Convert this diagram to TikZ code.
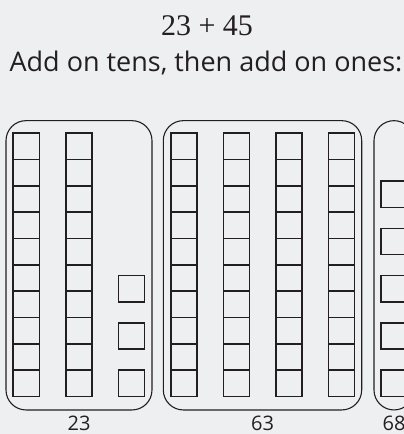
\documentclass[tikz,border=0pt]{standalone}
\usepackage{fontspec}
\setmainfont{Open Sans}
\newfontfamily\titlefont{Liberation Serif}
\usetikzlibrary{positioning}
\definecolor{ink}{HTML}{231F20}
\definecolor{paper}{HTML}{EEEFF1}
\tikzset{sc/.style={x=1pt,y=-1pt,line width=1.2pt,ink},
  unit/.style={draw=ink,line width=1.4pt,minimum size=26.3pt,inner sep=0pt,outer sep=0pt},
  grp/.style={draw=ink,line width=1.1pt,rounded corners=20pt,minimum height=289.3pt,inner sep=0pt},
  lbl/.style={font=\fontsize{20}{20}\selectfont,text=ink,inner sep=0pt}}

\begin{document}
\begin{tikzpicture}[sc]
  \fill[paper] (0,0) rectangle (404,434);
  \useasboundingbox (0,0) rectangle (404,434);
  \clip (0,0) rectangle (404,434);
  \node[font=\titlefont\fontsize{30}{30}\selectfont,text=ink] (sum) at (207,26) {23 + 45};
  \node[font=\fontsize{27}{27}\selectfont,text=ink] (task) at (206,63) {Add on tens, then add on ones:};
  % the three groups
  \node[grp,minimum width=146pt] (g1) at (79,265.3) {};
  \node[grp,minimum width=198.4pt] (g2) at (262.5,265.3) {};
  \node[grp,minimum width=40pt] (g3) at (394,265.3) {};
  % tens rods
  \foreach \c/\x in {a/26.3,b/79}{\foreach \r in {0,...,9}{\node[unit] (g1\c\r) at (\x,383.3-26.33*\r) {};}}
  \foreach \c/\x in {a/184,b/236.5,c/289,d/341.5}{\foreach \r in {0,...,9}{\node[unit] (g2\c\r) at (\x,383.3-26.33*\r) {};}}
  % ones
  \foreach \r in {0,1,2}{\node[unit] (g1o\r) at (131.5,383.3-47.3*\r) {};}
  \foreach \r in {0,...,4}{\node[unit] (g3o\r) at (394,383.3-47.3*\r) {};}
  \node[lbl,below=5pt of g1] (n1) {23};
  \node[lbl,below=5pt of g2] (n2) {63};
  \node[lbl,below=5pt of g3] (n3) {68};
\end{tikzpicture}
\end{document}
